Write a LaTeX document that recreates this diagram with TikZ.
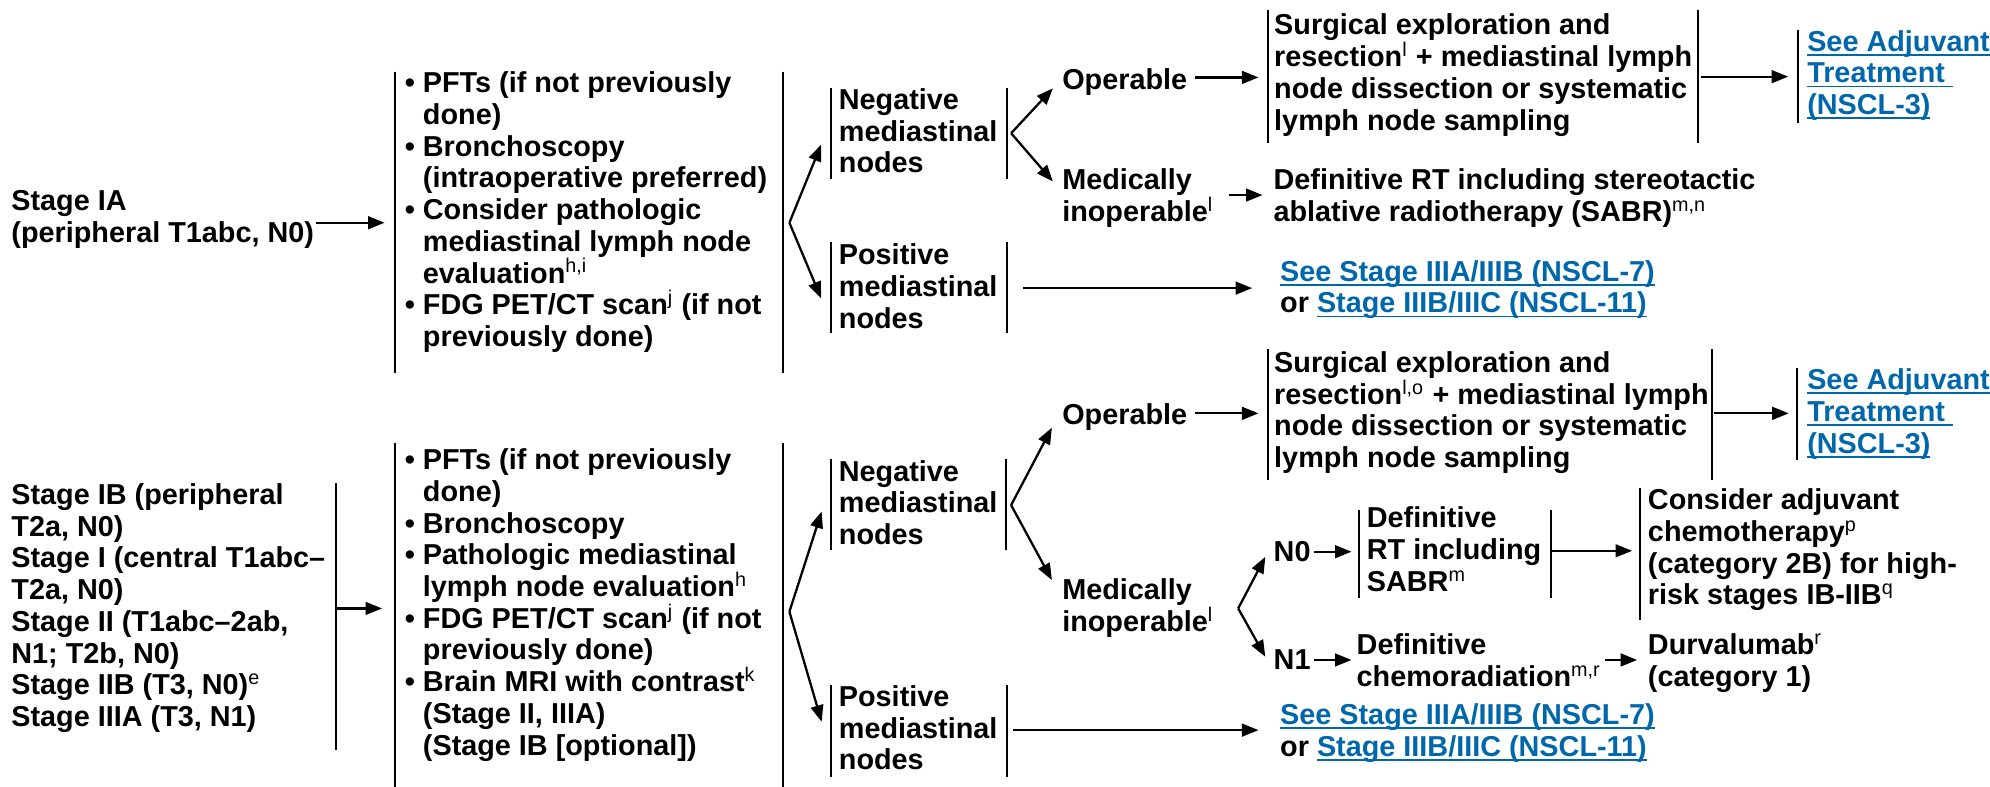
\documentclass[tikz,border=0pt]{standalone}
\usepackage{fontspec}
\setmainfont{Liberation Sans}
\usetikzlibrary{arrows.meta}
\definecolor{linkblue}{RGB}{0,104,170}
\newcommand\sups[1]{\textsuperscript{\fontsize{7.8}{7.8}\selectfont\mdseries #1}}
\newcommand\bul{\textbullet\ }
\newcommand\ind{\phantom{\textbullet\ }}
\newsavebox\lnkbox
\newcommand\lnk[1]{\sbox\lnkbox{\color{linkblue}#1}{\color{linkblue}\rlap{\usebox\lnkbox}\rule[-1.8pt]{\wd\lnkbox}{0.75pt}}}
\newcommand\vrul[3]{\draw[bar] (#1,#2) -- (#1,#3);}
\begin{document}
\begin{tikzpicture}[x=0.5pt,y=-0.5pt,
  txt/.style={inner sep=0pt, outer sep=0pt, anchor=base west, align=left,
              font=\fontsize{11.35}{12.5}\selectfont\bfseries},
  arr/.style={line width=0.9pt, -{Triangle[length=6.5pt,width=5pt]}},
  bar/.style={line width=0.75pt}]
\useasboundingbox (0,0) rectangle (1568,620);
% (node positions are given at the baseline of the LAST line)
% ================= TOP =================
\node[txt] (stA) at (9,191) {Stage IA\\(peripheral T1abc, N0)};
\coordinate (stAo) at (249,175.5); \coordinate (wu1in) at (303,175.5);
\draw[arr] (stAo) -- (wu1in);
\vrul{311}{56.5}{294}
\node[txt] (wu1) at (319,273) {\bul PFTs (if not previously\\\ind done)\\\bul Bronchoscopy\\\ind (intraoperative preferred)\\\bul Consider pathologic\\\ind mediastinal lymph node\\\ind evaluation\sups{h,i}\\\bul FDG PET/CT scan\sups{j} (if not\\\ind previously done)};
\vrul{617}{56.5}{294}
\coordinate (f1) at (622,175.5);
\coordinate (neg1in) at (647,114); \coordinate (pos1in) at (647,235);
\draw[arr] (f1) -- (neg1in);
\draw[arr] (f1) -- (pos1in);

\vrul{654.5}{69.6}{141.4}
\node[txt] (neg1) at (661,136.3) {Negative\\mediastinal\\nodes};
\vrul{793.6}{69.6}{141.4}
\coordinate (f2) at (796.7,105);
\coordinate (op1in) at (829.6,69.6); \coordinate (med1in) at (829.6,143);
\draw[arr] (f2) -- (op1in);
\draw[arr] (f2) -- (med1in);

\node[txt] (op1) at (837,70.5) {Operable};
\coordinate (op1o) at (941.6,61); \coordinate (su1in) at (991.6,61);
\draw[arr] (op1o) -- (su1in);
\vrul{999}{7.9}{113}
\node[txt] (su1) at (1004,102.5) {Surgical exploration and\\resection\sups{l} + mediastinal lymph\\node dissection or systematic\\lymph node sampling};
\vrul{1338}{7.9}{113}
\coordinate (su1o) at (1340,60.4); \coordinate (adj1in) at (1409,60.4);
\draw[arr] (su1o) -- (adj1in);
\vrul{1417}{23.6}{97}
\node[txt] (adj1) at (1424,90.3) {\lnk{See Adjuvant}\\\lnk{Treatment\ }\\\lnk{(NSCL-3)}};

\node[txt] (med1) at (837,174.3) {Medically\\inoperable\sups{l}};
\coordinate (med1o) at (968,153.7); \coordinate (def1in) at (994.8,153.7);
\draw[arr] (med1o) -- (def1in);
\node[txt] (def1) at (1003.5,174.3) {Definitive RT including stereotactic\\ablative radiotherapy (SABR)\sups{m,n}};

\vrul{654.5}{191}{262.7}
\node[txt] (pos1) at (661,258.5) {Positive\\mediastinal\\nodes};
\vrul{793.6}{191}{262.7}
\coordinate (pos1o) at (806,227); \coordinate (see1in) at (986.6,227);
\draw[arr] (pos1o) -- (see1in);
\node[txt] (see1) at (1008.7,246.5) {\lnk{See Stage IIIA/IIIB (NSCL-7)}\\or \lnk{Stage IIIB/IIIC (NSCL-11)}};

% ================= BOTTOM =================
\node[txt] (stB) at (9,572.5) {Stage IB (peripheral\\T2a, N0)\\Stage I (central T1abc–\\T2a, N0)\\Stage II (T1abc–2ab,\\N1; T2b, N0)\\Stage IIB (T3, N0)\sups{e}\\Stage IIIA (T3, N1)};
\vrul{265}{380.9}{591}
\coordinate (stBo) at (265,479.4); \coordinate (wu2in) at (301,479.4);
\draw[arr] (stBo) -- (wu2in);
\vrul{311}{349}{620}
\node[txt] (wu2) at (319,595) {\bul PFTs (if not previously\\\ind done)\\\bul Bronchoscopy\\\bul Pathologic mediastinal\\\ind lymph node evaluation\sups{h}\\\bul FDG PET/CT scan\sups{j} (if not\\\ind previously done)\\\bul Brain MRI with contrast\sups{k}\\\ind (Stage II, IIIA)\\\ind (Stage IB [optional])};
\vrul{617}{349}{620}
\coordinate (f3) at (622,482);
\coordinate (neg2in) at (647.4,403); \coordinate (pos2in) at (647.4,568.7);
\draw[arr] (f3) -- (neg2in);
\draw[arr] (f3) -- (pos2in);

\vrul{654.5}{361.7}{433.4}
\node[txt] (neg2) at (661,429.2) {Negative\\mediastinal\\nodes};
\vrul{793}{361.7}{433.4}
\coordinate (f4) at (796.7,398);
\coordinate (op2in) at (828.8,337); \coordinate (med2in) at (828.8,457);
\draw[arr] (f4) -- (op2in);
\draw[arr] (f4) -- (med2in);

\node[txt] (op2) at (837,334.5) {Operable};
\coordinate (op2o) at (941.6,325.7); \coordinate (su2in) at (991.6,325.7);
\draw[arr] (op2o) -- (su2in);
\vrul{999}{274.6}{378}
\node[txt] (su2) at (1004,368.5) {Surgical exploration and\\resection\sups{l,o} + mediastinal lymph\\node dissection or systematic\\lymph node sampling};
\vrul{1348.7}{274.6}{378}
\coordinate (su2o) at (1350.7,325.7); \coordinate (adj2in) at (1409.4,325.7);
\draw[arr] (su2o) -- (adj2in);
\vrul{1416}{290}{362.5}
\node[txt] (adj2) at (1424,357) {\lnk{See Adjuvant}\\\lnk{Treatment\ }\\\lnk{(NSCL-3)}};

\node[txt] (med2) at (837,497.5) {Medically\\inoperable\sups{l}};
\coordinate (f5) at (975.6,479.4);
\coordinate (n0in) at (997,438.7); \coordinate (n1in) at (997,517.5);
\draw[arr] (f5) -- (n0in);
\draw[arr] (f5) -- (n1in);

\node[txt] (n0) at (1003.6,442.2) {N0};
\coordinate (n0o) at (1035.3,434.7); \coordinate (def2in) at (1064.9,434.7);
\draw[arr] (n0o) -- (def2in);
\vrul{1071}{402}{471.5}
\node[txt] (def2) at (1077,466) {Definitive\\RT including\\SABR\sups{m}};
\vrul{1222}{402}{471.5}
\coordinate (def2o) at (1222,434); \coordinate (consin) at (1286,434);
\draw[arr] (def2o) -- (consin);
\vrul{1292.5}{384.8}{488.6}
\node[txt] (cons) at (1298.5,476.5) {Consider adjuvant\\chemotherapy\sups{p}\\(category 2B) for high-\\risk stages IB-IIB\sups{q}};

\node[txt] (n1) at (1003.6,527.5) {N1};
\coordinate (n1o) at (1035.3,520); \coordinate (chemin) at (1064.9,520);
\draw[arr] (n1o) -- (chemin);
\node[txt] (chem) at (1069,540.8) {Definitive\\chemoradiation\sups{m,r}};
\coordinate (chemo) at (1265,520); \coordinate (durin) at (1290,520);
\draw[arr] (chemo) -- (durin);
\node[txt] (dur) at (1298.5,540.8) {Durvalumab\sups{r}\\(category 1)};

\vrul{654.5}{539.8}{612}
\node[txt] (pos2) at (661,606.5) {Positive\\mediastinal\\nodes};
\vrul{793.6}{539.8}{612}
\coordinate (pos2o) at (798.4,575.3); \coordinate (see2in) at (991.6,575.3);
\draw[arr] (pos2o) -- (see2in);
\node[txt] (see2) at (1008.7,596) {\lnk{See Stage IIIA/IIIB (NSCL-7)}\\or \lnk{Stage IIIB/IIIC (NSCL-11)}};
\end{tikzpicture}
\end{document}
